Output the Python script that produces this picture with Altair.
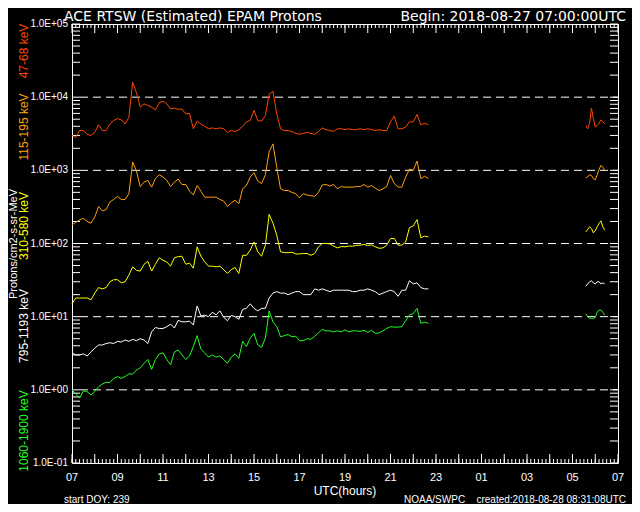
import altair as alt
import pandas as pd

# ---------------- data ----------------
channels = ["47-68 keV", "115-195 keV", "310-580 keV", "795-1193 keV", "1060-1900 keV"]
colors = ["#ff4500", "#ffa010", "#ffff00", "#ffffff", "#22ff22"]

# hours since 2018-08-27 07:00 UTC
main_hours = [k / 6 for k in range(95)]          # 07:00 .. 22:40 (10-min)
tail_hours = [k / 12 for k in range(271, 282)]   # 05:35 .. 06:25 next day (5-min)

p47_main = [3000, 2800, 3500, 3500, 3100, 3000, 3300, 4200, 3500, 3500,
            4300, 4800, 5100, 4900, 4300, 5300, 16000, 11500, 7300, 8100,
            7700, 7300, 6700, 8400, 8800, 8100, 6900, 7100, 6800, 6900,
            5900, 6000, 3700, 4700, 4300, 4000, 3700, 3800, 3700, 3800,
            3700, 3300, 3500, 3400, 3600, 4000, 4600,
            4800, 6600, 4800, 4700, 5600, 11000, 12000, 5900, 3700, 3500,
            3500, 3400, 3200, 3100, 3200, 3300, 3200, 3100, 3400, 3800,
            3600, 3500, 3400, 3700, 3700, 3600, 3700, 3600, 3600, 3700,
            3600, 3700, 3600, 3500, 3600, 3500, 3500, 4600, 5500, 3700,
            3700, 3900, 4600, 4600, 5800, 4200, 4400, 4200]
p115_main = [180, 195, 210, 220, 200, 190, 230, 320, 280, 290,
             370, 400, 440, 400, 400, 480, 1300, 980, 600, 690,
             730, 590, 770, 870, 810, 730, 600, 690, 760, 640,
             640, 520, 460, 620, 520, 430, 430, 430, 430, 400,
             380, 320, 360, 390, 350, 560, 620,
             810, 930, 710, 660, 870, 1800, 2300, 1100, 560, 530,
             530, 500, 480, 420, 480, 460, 450, 440, 500, 630,
             640, 610, 640, 560, 600, 590, 590, 590, 600, 600,
             640, 590, 620, 570, 530, 560, 600, 850, 660, 590,
             590, 810, 1040, 1000, 1340, 770, 830, 770]
p310_main = [15, 18, 18, 18, 18, 17, 21, 25, 24, 25,
             30, 32, 32, 29, 30, 37, 48, 43, 42, 52,
             57, 42, 52, 64, 59, 56, 49, 64, 66, 67,
             52, 54, 46, 90, 67, 56, 49, 49, 48, 49,
             44, 39, 44, 47, 39, 69, 69,
             81, 105, 77, 67, 95, 250, 190, 130, 77, 75,
             75, 76, 72, 72, 73, 73, 69, 73, 90, 100,
             100, 99, 92, 87, 91, 90, 92, 92, 94, 95,
             97, 94, 96, 90, 86, 87, 95, 117, 117, 95,
             95, 105, 165, 174, 212, 120, 126, 123]
p795_main = [3.2, 3.0, 3.0, 3.1, 2.9, 3.3, 3.7, 4.1, 4.1, 4.3,
             4.4, 4.3, 4.6, 4.5, 4.8, 4.6, 4.9, 4.7, 5.0, 4.8,
             4.3, 6.2, 7.1, 6.9, 6.9, 7.3, 7.9, 7.0, 8.9, 8.5,
             8.5, 8.7, 7.7, 14, 10.2, 10.5, 10, 11.5, 10.6, 12,
             9.8, 8.8, 10.4, 10, 9.2, 12.6, 13,
             15, 13, 12, 13, 13, 18, 21, 22, 21, 21,
             20, 21, 22, 22, 20, 20, 20, 24, 23, 24,
             23, 22, 23, 23, 23, 23, 23, 22, 22, 23,
             23, 24, 23, 22, 20, 21, 22, 23, 22, 19,
             23, 23, 31, 28, 29, 25, 24, 24]
p1060_main = [1.0, 0.88, 0.77, 0.97, 0.94, 0.85, 0.95, 1.1, 1.2, 1.27,
              1.26, 1.43, 1.52, 1.43, 1.52, 1.65, 1.65, 1.85, 2.0, 2.3,
              2.6, 1.9, 2.6, 3.1, 3.2, 2.6, 2.2, 3.3, 3.5, 3.0,
              2.6, 2.9, 3.9, 5.5, 3.6, 3.2, 2.8, 3.0, 2.8, 2.9,
              2.6, 2.3, 2.8, 3.1, 2.7, 4.6, 3.9,
              5.1, 5.9, 4.1, 3.8, 5.1, 12, 8.5, 7.3, 5.3, 5.5,
              5.7, 5.3, 5.4, 4.7, 4.7, 5.0, 4.9, 5.4, 6.0, 6.7,
              6.4, 6.4, 6.2, 6.4, 6.2, 6.6, 6.2, 6.4, 6.4, 6.3,
              6.5, 6.1, 6.5, 5.9, 6.0, 6.4, 6.9, 7.3, 7.2, 7.2,
              7.3, 8.8, 10.5, 11, 13, 8.1, 8.4, 8.1]

p47_tail = [4100, 3700, 4400, 7100, 5100, 3900, 4100, 4400, 4900, 4600, 4300]
p115_tail = [790, 810, 870, 850, 770, 740, 870, 1020, 1170, 1100, 1000]
p310_tail = [144, 155, 169, 160, 140, 149, 169, 188, 204, 169, 152]
p795_tail = [26, 28, 30, 31, 29, 28, 30, 30, 28, 29, 28]
p1060_tail = [11, 10, 9.5, 9.5, 9.5, 9.7, 11.5, 12.3, 12.3, 11.5, 10.5]

x_label_hours = list(range(0, 25, 2))
x_labels = ["07", "09", "11", "13", "15", "17", "19", "21", "23", "01", "03", "05", "07"]
decades = [0.1, 1, 10, 100, 1000, 10000, 100000]
y_labels = ["1.0E-01", "1.0E+00", "1.0E+01", "1.0E+02", "1.0E+03", "1.0E+04", "1.0E+05"]
dashed_levels = [1, 10, 100, 1000, 10000]

# ---------------- build tables ----------------
mains = [p47_main, p115_main, p310_main, p795_main, p1060_main]
tails = [p47_tail, p115_tail, p310_tail, p795_tail, p1060_tail]
rows = []
for ch, m, t in zip(channels, mains, tails):
    for h, v in zip(main_hours, m):
        rows.append({"h": h, "flux": v, "channel": ch, "seg": ch + "a"})
    for h, v in zip(tail_hours, t):
        rows.append({"h": h, "flux": v, "channel": ch, "seg": ch + "b"})
df = pd.DataFrame(rows)

W, H = 546, 439
FONT = "Liberation Sans"
xscale = alt.Scale(domain=[0, 24], nice=False, zero=False)
yscale = alt.Scale(type="log", domain=[0.1, 100000], nice=False)

lines = alt.Chart(df).mark_line(strokeWidth=1).encode(
    x=alt.X("h:Q", scale=xscale, axis=None),
    y=alt.Y("flux:Q", scale=yscale, axis=None),
    color=alt.Color("channel:N", scale=alt.Scale(domain=channels, range=colors), legend=None),
    detail="seg:N",
)

# dashed decade lines
dash = alt.Chart(pd.DataFrame({"v": dashed_levels})).mark_rule(
    color="white", strokeWidth=1, strokeDash=[8, 5]).encode(
    y=alt.Y("v:Q", scale=yscale, axis=None), x=alt.value(8), x2=alt.value(W))

# inward ticks
ytick_vals = [m * 10.0 ** e for e in range(-1, 5) for m in range(1, 10)] + [100000]
minor_x = [k / 6 for k in range(145)]
major_x = list(range(25))
ydf = pd.DataFrame({"v": ytick_vals})
tick_layers = []
for x0, x1 in [(0, 8), (W - 8, W)]:
    tick_layers.append(alt.Chart(ydf).mark_rule(color="white", strokeWidth=1).encode(
        y=alt.Y("v:Q", scale=yscale, axis=None), x=alt.value(x0), x2=alt.value(x1)))
for vals, ln in [(minor_x, 4), (major_x, 9)]:
    xdf = pd.DataFrame({"h": vals})
    tick_layers.append(alt.Chart(xdf).mark_rule(color="white", strokeWidth=1).encode(
        x=alt.X("h:Q", scale=xscale, axis=None), y=alt.value(H - ln), y2=alt.value(H)))
    tick_layers.append(alt.Chart(xdf).mark_rule(color="white", strokeWidth=1).encode(
        x=alt.X("h:Q", scale=xscale, axis=None), y=alt.value(0), y2=alt.value(ln)))

# tick labels
ylab = alt.Chart(pd.DataFrame({"v": decades, "lab": y_labels})).mark_text(
    font=FONT, fontSize=10, color="white", align="right", baseline="middle").encode(
    y=alt.Y("v:Q", scale=yscale, axis=None), x=alt.value(-4), text="lab:N")
xlab = alt.Chart(pd.DataFrame({"h": x_label_hours, "lab": x_labels})).mark_text(
    font=FONT, fontSize=11, color="white", align="center", baseline="top").encode(
    x=alt.X("h:Q", scale=xscale, axis=None), y=alt.value(H + 9), text="lab:N")

one = pd.DataFrame({"n": [0]})


def label(txt, x, y, size, color="white", align="left", angle=0, baseline="alphabetic", font=FONT):
    return alt.Chart(one).mark_text(
        font=font, fontSize=size, color=color, align=align, baseline=baseline, angle=angle
    ).encode(x=alt.value(x), y=alt.value(y), text=alt.value(txt))


texts = [
    label("ACE RTSW (Estimated) EPAM Protons", -8, -3, 14, font="DejaVu Sans"),
    label("Begin: 2018-08-27 07:00:00UTC", 554, -3, 14, align="right", font="DejaVu Sans"),
    label("Protons/cm2-s-sr-MeV", -58, 220, 11, angle=270, align="center", baseline="middle"),
    label("UTC(hours)", W / 2, 471, 12, align="center"),
    label("start DOY:  239", -8, 479, 10),
    label("NOAA/SWPC", 332, 479, 10),
    label("created:2018-08-28 08:31:08UTC", 554, 479, 10, align="right"),
]
side_y = [27, 103, 202, 302, 407]
for ch, col, yy in zip(channels, colors, side_y):
    texts.append(label(ch, -48, yy, 12, color=col, angle=270, align="center", baseline="middle"))

chart = alt.layer(dash, *tick_layers, lines, ylab, xlab, *texts).properties(
    width=W, height=H,
    background="black",
    padding={"left": 64, "top": 16, "right": 14, "bottom": 41},
    autosize=alt.AutoSizeParams(type="none"),
).configure_view(stroke="white", strokeWidth=1)

chart.save("out.html", embed_options={"renderer": "svg", "actions": False})
